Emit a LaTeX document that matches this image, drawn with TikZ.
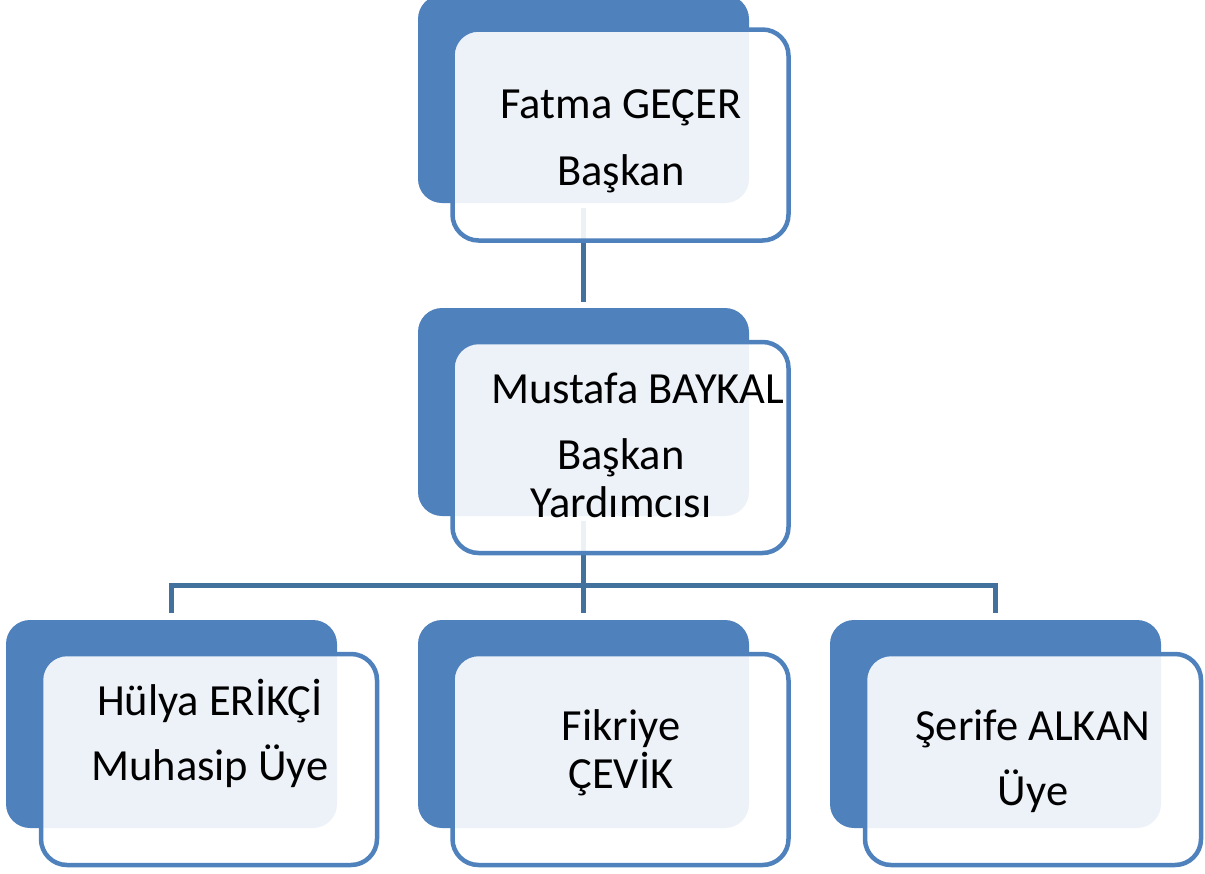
\documentclass[tikz,border=0pt]{standalone}
\usepackage{fontspec}
\setmainfont{Carlito}
\usepackage{xcolor}
\usepackage{tikz}
\definecolor{boxblue}{HTML}{4F81BD}
\definecolor{linkblue}{HTML}{41719C}
\tikzstyle{backbox} = [fill=boxblue, rectangle, rounded corners=24pt,
minimum width=331pt, minimum height=208pt, inner sep=0pt]
\tikzstyle{frontbox} = [draw=boxblue, line width=4.5pt, fill=white, fill opacity=0.9,
rectangle, rounded corners=26pt, minimum width=336pt, minimum height=211pt, inner sep=0pt]
\tikzstyle{boxtext} = [anchor=base, text width=260pt, align=flush center, inner sep=0pt,
font=\fontsize{44.5}{48}\selectfont]
\tikzstyle{link} = [draw=linkblue, line width=5pt]

\begin{document}
\begin{tikzpicture}[x=1pt, y=1pt]
        \useasboundingbox (0,0) rectangle (1205,-873);
        % back boxes
        \node [backbox] (top-b) at (583.5,-99) {};
        \node [backbox] (mid-b) at (583.5,-412) {};
        \node [backbox] (hl-b) at (171.5,-724) {};
        \node [backbox] (fc-b) at (583.5,-724) {};
        \node [backbox] (sa-b) at (995.5,-724) {};
        % connectors
        \draw [link] ([yshift=-5pt]top-b.south) -- ([yshift=6pt]mid-b.north);
        \draw [link] ([yshift=-5pt]mid-b.south) -- ([yshift=7pt]fc-b.north);
        \draw [link] ([yshift=7pt]hl-b.north) -- ++(0,27) -| ([yshift=7pt]sa-b.north);
        % front boxes
        \node [frontbox] (top-f) at ([xshift=37pt, yshift=-36pt]top-b.center) {};
        \node [frontbox] (mid-f) at ([xshift=37pt, yshift=-35.5pt]mid-b.center) {};
        \node [frontbox] (hl-f) at ([xshift=37.5pt, yshift=-35.5pt]hl-b.center) {};
        \node [frontbox] (fc-f) at ([xshift=37pt, yshift=-35.5pt]fc-b.center) {};
        \node [frontbox] (sa-f) at ([xshift=37.5pt, yshift=-35.5pt]sa-b.center) {};
        % names
        \node [boxtext] (top-t) at (621,-118) {Fatma GEÇER\\[19pt]Başkan};
        \node [boxtext] (mid-t) at (621,-403) {\mbox{Mustafa BAYKAL}\\[18pt]Başkan\\Yardımcısı};
        \node [boxtext] (hl-t) at (210,-715) {Hülya ERİKÇİ\\[17pt]Muhasip Üye};
        \node [boxtext] (fc-t) at (621,-740) {Fikriye\\ÇEVİK};
        \node [boxtext] (sa-t) at (1033,-740) {Şerife ALKAN\\[17pt]Üye};
    \end{tikzpicture}
\end{document}
